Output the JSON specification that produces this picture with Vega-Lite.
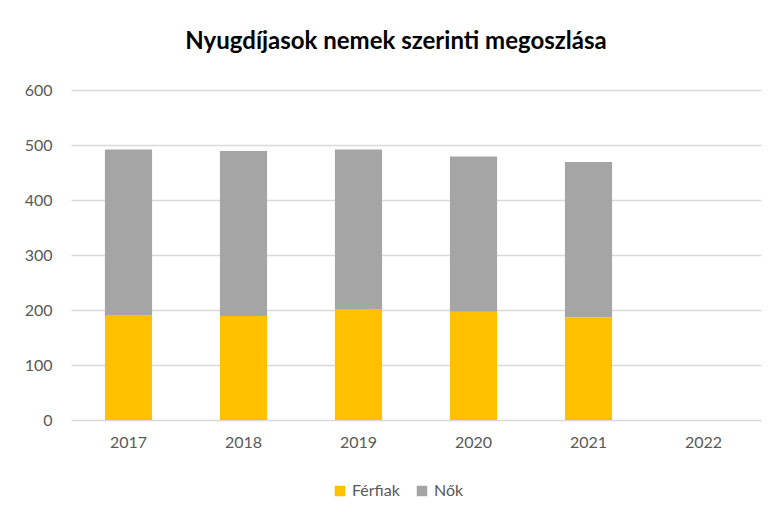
{
  "$schema": "https://vega.github.io/schema/vega-lite/v6.json",
  "width": 690,
  "height": 330,
  "autosize": {"type": "none"},
  "padding": {"left": 71, "top": 90, "right": 15, "bottom": 94},
  "background": "white",
  "title": {
    "text": "Nyugdíjasok  nemek szerinti megoszlása",
    "font": "Lato",
    "fontSize": 24,
    "fontWeight": "bold",
    "color": "#000000",
    "anchor": "middle",
    "dx": -20,
    "offset": 28
  },
  "data": {
    "values": [
      {"ev": "2017", "nem": "Férfiak", "ord": 1, "fo": 191},
      {"ev": "2017", "nem": "Nők", "ord": 2, "fo": 301},
      {"ev": "2018", "nem": "Férfiak", "ord": 1, "fo": 189},
      {"ev": "2018", "nem": "Nők", "ord": 2, "fo": 300},
      {"ev": "2019", "nem": "Férfiak", "ord": 1, "fo": 202},
      {"ev": "2019", "nem": "Nők", "ord": 2, "fo": 290},
      {"ev": "2020", "nem": "Férfiak", "ord": 1, "fo": 197},
      {"ev": "2020", "nem": "Nők", "ord": 2, "fo": 282},
      {"ev": "2021", "nem": "Férfiak", "ord": 1, "fo": 187},
      {"ev": "2021", "nem": "Nők", "ord": 2, "fo": 282}
    ]
  },
  "mark": {"type": "bar"},
  "encoding": {
    "x": {
      "field": "ev",
      "type": "nominal",
      "scale": {"domain": ["2017", "2018", "2019", "2020", "2021", "2022"], "paddingInner": 0.59, "paddingOuter": 0.295},
      "axis": {"title": null, "labelAngle": 0, "ticks": false, "domain": false, "labelPadding": 14, "labelFontSize": 16, "labelFont": "Lato", "labelColor": "#595959", "grid": false}
    },
    "y": {
      "field": "fo",
      "type": "quantitative",
      "stack": "zero",
      "scale": {"domain": [0, 600], "nice": false},
      "axis": {"title": null, "values": [0, 100, 200, 300, 400, 500, 600], "ticks": false, "domain": false, "labelPadding": 19, "labelFontSize": 16, "labelFont": "Lato", "labelColor": "#595959", "gridColor": "#d9d9d9", "gridWidth": 1.3}
    },
    "color": {
      "field": "nem",
      "type": "nominal",
      "scale": {"domain": ["Férfiak", "Nők"], "range": ["#FFC000", "#A5A5A5"]},
      "legend": {"title": null, "orient": "none", "legendX": 261, "legendY": 393, "direction": "horizontal", "symbolType": "square", "symbolSize": 110, "labelFontSize": 16, "labelFont": "Lato", "labelColor": "#595959", "columnPadding": 14, "symbolStrokeWidth": 0}
    },
    "order": {"field": "ord", "type": "quantitative"}
  },
  "config": {"view": {"stroke": null}}
}
